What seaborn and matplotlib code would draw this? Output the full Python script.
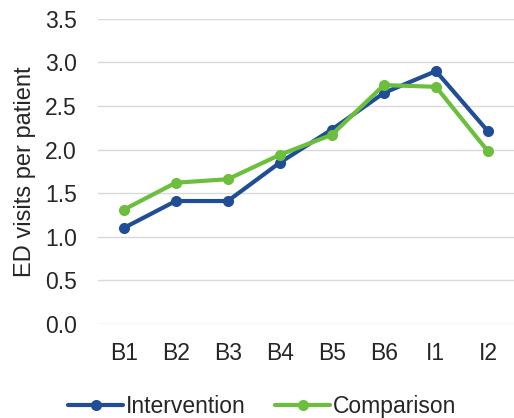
import matplotlib
matplotlib.use("Agg")
import matplotlib.pyplot as plt
import seaborn as sns
import pandas as pd

periods = ["B1", "B2", "B3", "B4", "B5", "B6", "I1", "I2"]
intervention = [1.10, 1.41, 1.41, 1.85, 2.23, 2.65, 2.90, 2.21]
comparison = [1.31, 1.62, 1.66, 1.94, 2.17, 2.74, 2.72, 1.98]

df = pd.DataFrame({
    "period": periods * 2,
    "visits": intervention + comparison,
    "group": ["Intervention"] * len(periods) + ["Comparison"] * len(periods),
})

sns.set_style("white")
plt.rcParams["font.family"] = ["Liberation Sans", "DejaVu Sans"]

fig, ax = plt.subplots(figsize=(5.14, 4.18), dpi=100)
sns.lineplot(data=df, x="period", y="visits", hue="group", sort=False,
             palette={"Intervention": "#1f4e96", "Comparison": "#6cbf3c"},
             marker="o", markersize=8, markeredgewidth=0, linewidth=3, ax=ax)

ax.set_ylim(0, 3.5)
ax.set_yticks([0, 0.5, 1, 1.5, 2, 2.5, 3, 3.5])
ax.set_yticklabels([f"{v:.1f}" for v in ax.get_yticks()])
ax.set_xlim(-0.5, 7.5)
ax.yaxis.grid(True, color="#d9d9d9", linewidth=1)
ax.set_axisbelow(True)
for s in ax.spines.values():
    s.set_visible(False)
ax.tick_params(axis="both", labelsize=16.5, colors="#262626", length=0)
ax.tick_params(axis="x", pad=13)
ax.tick_params(axis="y", pad=15)
ax.set_xlabel("")
ax.set_ylabel("ED visits per patient", fontsize=17, color="#262626")
ax.yaxis.set_label_coords(-0.147, 0.5)

fig.legend(*ax.get_legend_handles_labels(), loc="lower center",
           bbox_to_anchor=(0.51, -0.05), ncol=2, frameon=False,
           fontsize=16.5, handlelength=2.4, columnspacing=1.3, handletextpad=0.1)
ax.get_legend().remove()

fig.subplots_adjust(left=0.19, right=1.0, top=0.955, bottom=0.225)
fig.savefig("out.png", dpi=100)
